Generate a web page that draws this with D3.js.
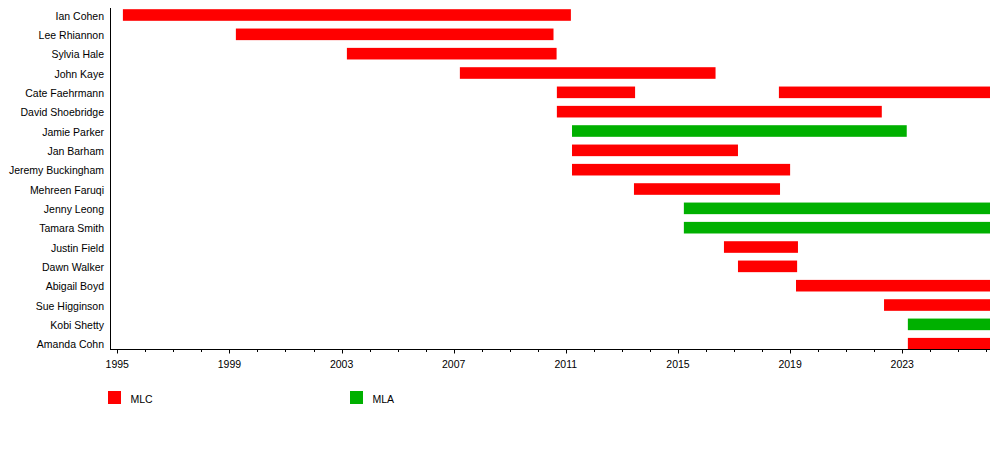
<!DOCTYPE html>
<html>
<head>
<meta charset="utf-8">
<script src="https://cdn.jsdelivr.net/npm/d3@7"></script>
<style>
  body { margin: 0; background: #fff; }
  text { font-family: "Liberation Sans", Arial, sans-serif; fill: #000; }
</style>
</head>
<body>
<div id="chart"></div>
<script>
var svgWidth = 1000,
	svgHeight = 458;

// members, top to bottom
var names = ['Ian Cohen', 'Lee Rhiannon', 'Sylvia Hale', 'John Kaye', 'Cate Faehrmann',
	'David Shoebridge', 'Jamie Parker', 'Jan Barham', 'Jeremy Buckingham', 'Mehreen Faruqi',
	'Jenny Leong', 'Tamara Smith', 'Justin Field', 'Dawn Walker', 'Abigail Boyd',
	'Sue Higginson', 'Kobi Shetty', 'Amanda Cohn'];

// terms: [member, start, end, house]
var terms = [
	['Ian Cohen', 1995.2, 2011.18, 'MLC'],
	['Lee Rhiannon', 1999.23, 2010.56, 'MLC'],
	['Sylvia Hale', 2003.19, 2010.67, 'MLC'],
	['John Kaye', 2007.22, 2016.34, 'MLC'],
	['Cate Faehrmann', 2010.68, 2013.47, 'MLC'],
	['Cate Faehrmann', 2018.6, 2026.13, 'MLC'],
	['David Shoebridge', 2010.68, 2022.27, 'MLC'],
	['Jamie Parker', 2011.22, 2023.16, 'MLA'],
	['Jan Barham', 2011.22, 2017.14, 'MLC'],
	['Jeremy Buckingham', 2011.22, 2019.0, 'MLC'],
	['Mehreen Faruqi', 2013.43, 2018.64, 'MLC'],
	['Jenny Leong', 2015.21, 2026.13, 'MLA'],
	['Tamara Smith', 2015.21, 2026.13, 'MLA'],
	['Justin Field', 2016.64, 2019.28, 'MLC'],
	['Dawn Walker', 2017.14, 2019.25, 'MLC'],
	['Abigail Boyd', 2019.21, 2026.13, 'MLC'],
	['Sue Higginson', 2022.35, 2026.13, 'MLC'],
	['Kobi Shetty', 2023.2, 2026.13, 'MLA'],
	['Amanda Cohn', 2023.2, 2026.13, 'MLC']
];

var houses = ['MLC', 'MLA'];
var houseColors = ['#ff0000', '#00b000'];

var majorTicks = [1995, 1999, 2003, 2007, 2011, 2015, 2019, 2023];
var minorTicks = d3.range(1995, 2027);

var svg = d3.select('#chart')
	.append('svg')
	.attr('width', svgWidth)
	.attr('height', svgHeight);

var xScale = d3.scaleLinear()
	.domain([1994.74, 2026.13])
	.range([110, 990]);

var yScale = d3.scaleBand()
	.domain(names)
	.range([9.2, 349.5])
	.paddingInner(0.4)
	.paddingOuter(0);

var color = d3.scaleOrdinal()
	.domain(houses)
	.range(houseColors);

// bars
svg.append('g').selectAll('rect')
	.data(terms)
	.enter()
	.append('rect')
	.attr('x', d => xScale(d[1]))
	.attr('y', d => yScale(d[0]))
	.attr('width', d => xScale(d[2]) - xScale(d[1]))
	.attr('height', yScale.bandwidth())
	.attr('fill', d => color(d[3]));

// member labels
svg.append('g').selectAll('text')
	.data(names)
	.enter()
	.append('text')
	.attr('x', 104)
	.attr('y', d => yScale(d) + yScale.bandwidth() / 2 + 1)
	.attr('dy', '0.35em')
	.attr('text-anchor', 'end')
	.style('font-size', '10.5px')
	.text(d => d);

// axes
var axisY = 349.5;

svg.append('line')
	.attr('x1', 110.5).attr('x2', 110.5)
	.attr('y1', 8).attr('y2', axisY)
	.attr('stroke', '#000');

svg.append('line')
	.attr('x1', 110).attr('x2', 990)
	.attr('y1', axisY).attr('y2', axisY)
	.attr('stroke', '#000');

svg.append('g').selectAll('line')
	.data(minorTicks)
	.enter()
	.append('line')
	.attr('x1', d => Math.round(xScale(d)) + 0.5)
	.attr('x2', d => Math.round(xScale(d)) + 0.5)
	.attr('y1', axisY)
	.attr('y2', d => majorTicks.indexOf(d) >= 0 ? axisY + 4 : axisY + 2.5)
	.attr('stroke', '#000');

svg.append('g').selectAll('text')
	.data(majorTicks)
	.enter()
	.append('text')
	.attr('x', d => xScale(d))
	.attr('y', 368)
	.attr('text-anchor', 'middle')
	.style('font-size', '10.5px')
	.text(d => d);

// legend
var legend = svg.append('g').selectAll('g')
	.data(houses)
	.enter()
	.append('g')
	.attr('transform', (d, i) => `translate(${108 + i * 242},391)`);

legend.append('rect')
	.attr('width', 13)
	.attr('height', 13)
	.attr('fill', d => color(d));

legend.append('text')
	.attr('x', 22.5)
	.attr('y', 11.5)
	.style('font-size', '10.5px')
	.text(d => d);
</script>
</body>
</html>
